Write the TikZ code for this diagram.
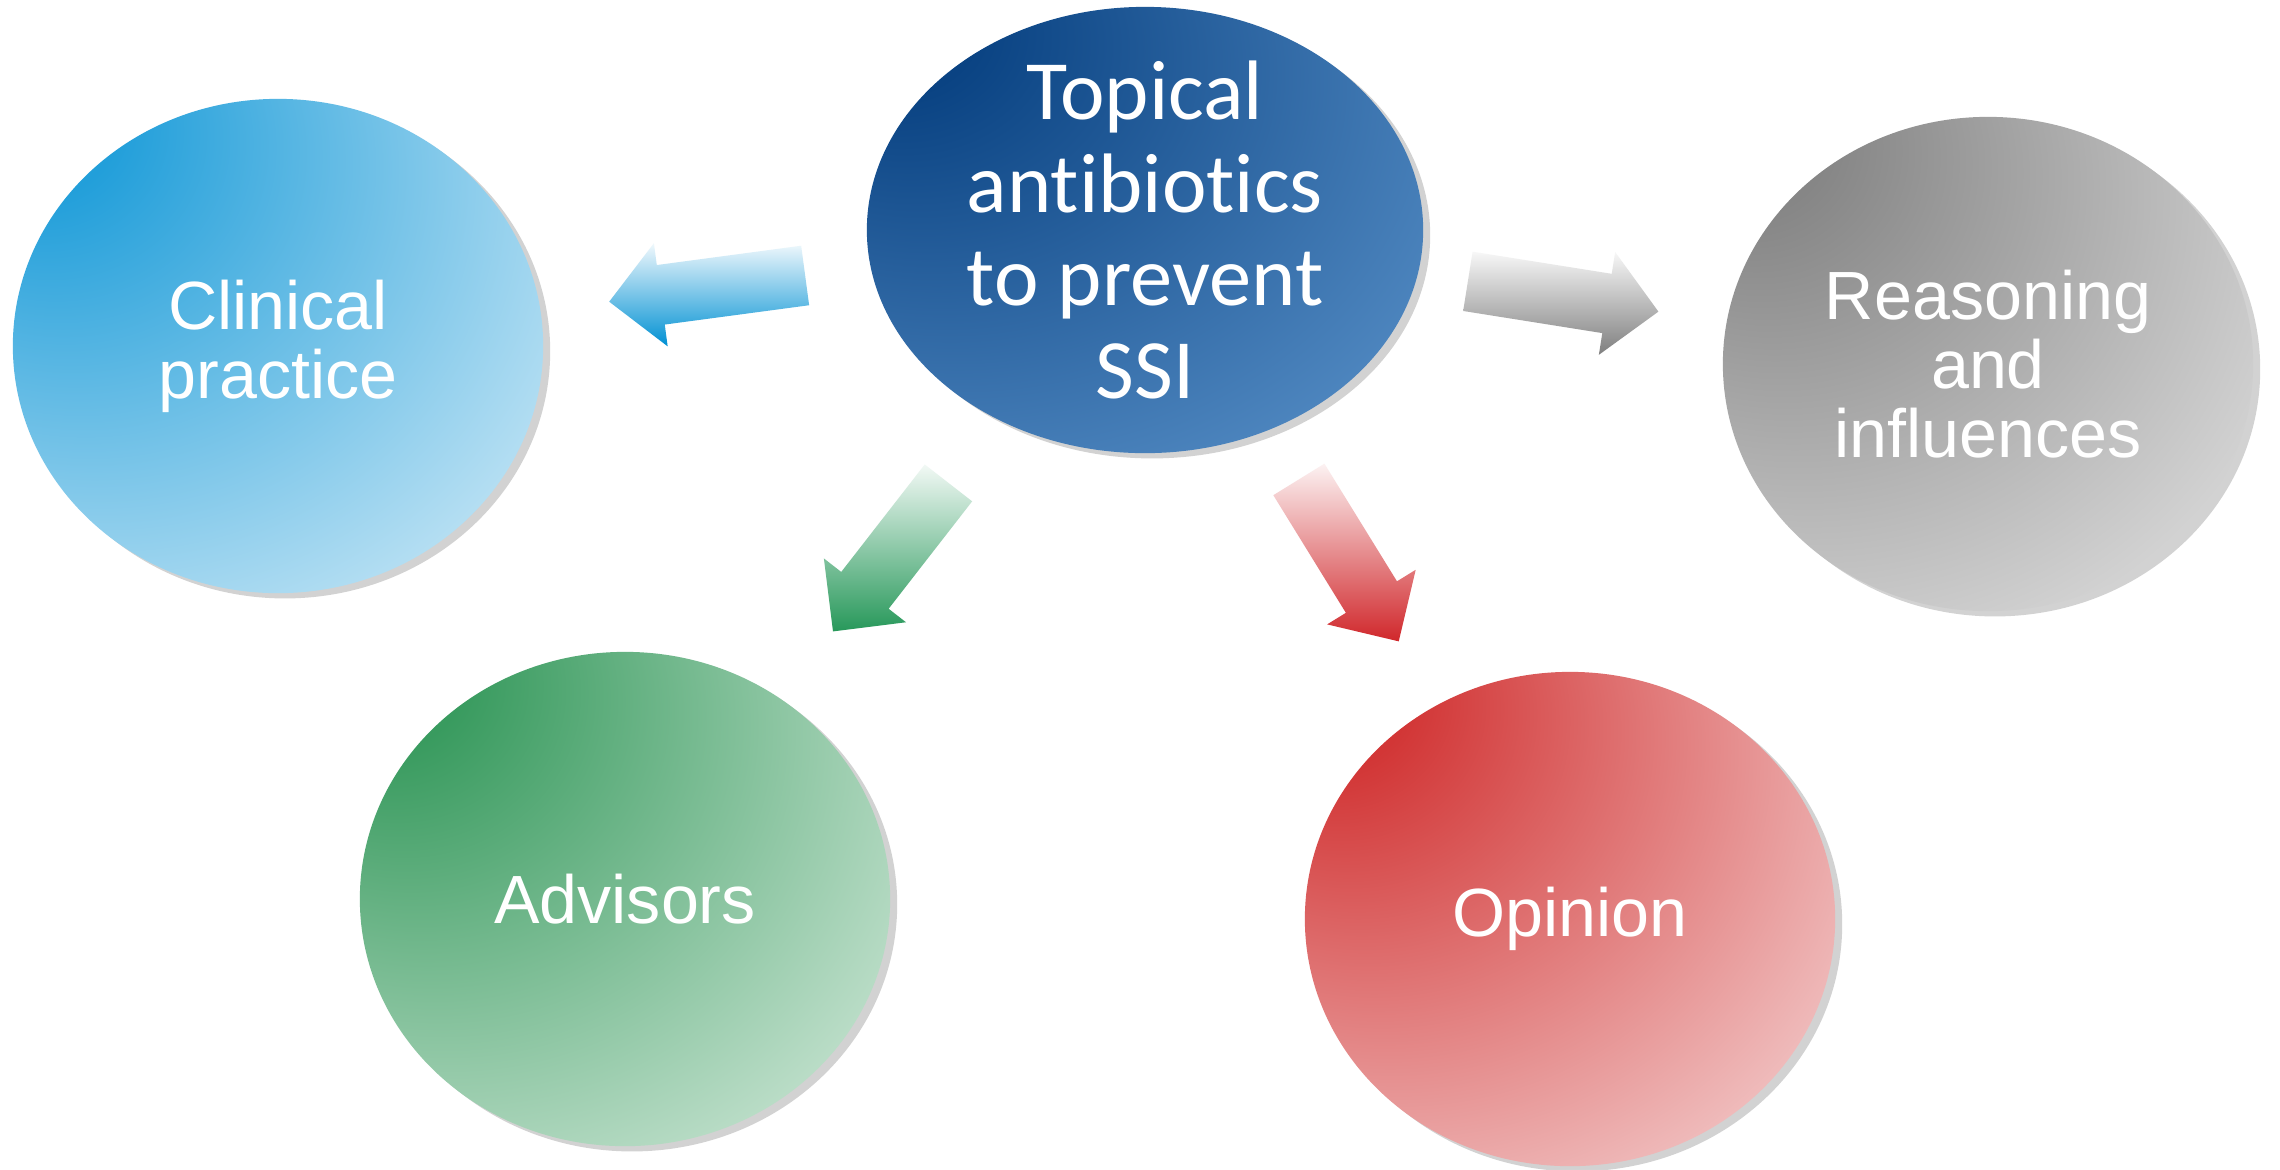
\documentclass[tikz,border=0pt]{standalone}
\usepackage{fontspec}
\newfontfamily\topicfont[Ligatures=NoCommon]{Carlito}
\newfontfamily\bubblefont{Liberation Sans}
\usetikzlibrary{shapes.geometric, shadows, calc}

% bubble colours (saturated corner, light corner)
\definecolor{topicA}{HTML}{0A4383}
\definecolor{topicB}{HTML}{6199D0}
\definecolor{clinA}{HTML}{229FDA}
\definecolor{clinB}{HTML}{E2F2FA}
\definecolor{reasA}{HTML}{868686}
\definecolor{reasB}{HTML}{EAEAEA}
\definecolor{advA}{HTML}{399B5F}
\definecolor{advB}{HTML}{E2F1E7}
\definecolor{opinA}{HTML}{D23636}
\definecolor{opinB}{HTML}{F8E4E4}
% arrow colours
\definecolor{arblue}{HTML}{0090D3}
\definecolor{argrey}{HTML}{7F7F7F}
\definecolor{argreen}{HTML}{27985A}
\definecolor{arred}{HTML}{D0272B}

% light spreads from the top left corner
\newcommand{\bubbleshading}[3]{%
  \pgfdeclareradialshading{#1}{\pgfpoint{-25bp}{25bp}}{color(0bp)=(#2); color(8bp)=(#2); color(56bp)=(#3); color(100bp)=(#3)}}
\bubbleshading{topicshade}{topicA}{topicB}
\bubbleshading{clinshade}{clinA}{clinB}
\bubbleshading{reasshade}{reasA}{reasB}
\bubbleshading{advshade}{advA}{advB}
\bubbleshading{opinshade}{opinA}{opinB}

\begin{document}
\begin{tikzpicture}[x=0.01cm, y=-0.01cm,
    bubble/.style={ellipse, inner sep=0pt, minimum width=5.3cm, minimum height=4.94cm,
        drop shadow={shadow xshift=2pt, shadow yshift=-1.5pt, opacity=0.35}},
    bubbletext/.style={text=white, align=center, font=\bubblefont\fontsize{19.4}{19.6}\selectfont}]

    \fill[white] (0,0) rectangle (2280,1169);

    % Central topic
    \node[bubble, minimum width=5.56cm, minimum height=4.46cm, shading=topicshade] (topic) at (1145,230) {};
    \node[text=white, align=center, font={\topicfont\fontsize{24}{26.5}\selectfont}] (topic-txt) at (topic) {Topical\\antibiotics\\to prevent\\SSI};

    % Surrounding themes
    \node[bubble, shading=clinshade] (clin) at (278,346) {};
    \node[bubble, shading=reasshade] (reas) at (1988,364) {};
    \node[bubble, shading=advshade] (adv) at (625,899) {};
    \node[bubble, shading=opinshade] (opin) at (1570,919) {};

    \node[bubbletext] (clin-txt) at (clin) {Clinical\\practice};
    \node[bubbletext] (reas-txt) at (reas) {Reasoning\\and\\influences};
    \node[bubbletext] (adv-txt) at (adv) {Advisors};
    \node[bubbletext] (opin-txt) at (opin) {Opinion};

    % Block arrows out of the topic
    \foreach \dst/\col/\ts/\tp in {clin/arblue/0.392/0.618, reas/argrey/0.383/0.609, adv/argreen/0.378/0.600, opin/arred/0.362/0.597} {
        \coordinate (tail) at ($(topic.center)!\ts!(\dst.center)$);
        \coordinate (tip) at ($(topic.center)!\tp!(\dst.center)$);
        \coordinate (neck) at ($(tip)!0.52cm!(tail)$);
        \shade[top color=\col!6, middle color=\col, bottom color=\col]
            ($(tail)!0.3cm!90:(tip)$) -- ($(neck)!0.3cm!90:(tip)$) -- ($(neck)!0.52cm!90:(tip)$) -- (tip)
            -- ($(neck)!0.52cm!-90:(tip)$) -- ($(neck)!0.3cm!-90:(tip)$) -- ($(tail)!0.3cm!-90:(tip)$) -- cycle;
    }
\end{tikzpicture}
\end{document}
